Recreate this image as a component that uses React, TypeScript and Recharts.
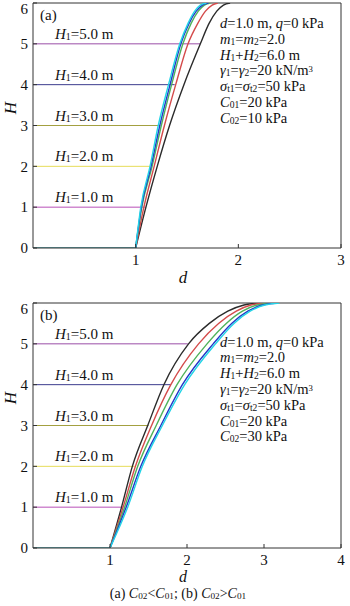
import React from 'react';
import { LineChart, Line, XAxis, YAxis, ReferenceLine } from 'recharts';

// H values at which each curve's d is sampled
const H_LEVELS = [0, 1, 2, 3, 4, 5, 5.5, 5.8, 5.95, 6];

// (a) C02 < C01
const A_BLACK = [1.0, 1.10, 1.21, 1.33, 1.47, 1.63, 1.715, 1.79, 1.855, 1.92];
const A_RED = [1.0, 1.08, 1.18, 1.28, 1.39, 1.51, 1.605, 1.68, 1.745, 1.80];
const A_GREEN = [1.0, 1.06, 1.16, 1.25, 1.35, 1.46, 1.54, 1.61, 1.67, 1.73];
const A_BLUE = [1.0, 1.055, 1.15, 1.235, 1.335, 1.44, 1.52, 1.59, 1.65, 1.71];
const A_CYAN = [1.0, 1.05, 1.14, 1.22, 1.32, 1.43, 1.51, 1.575, 1.63, 1.69];

// (b) C02 > C01
const B_BLACK = [1.0, 1.15, 1.29, 1.49, 1.70, 2.02, 2.29, 2.53, 2.74, 2.95];
const B_RED = [1.0, 1.17, 1.33, 1.54, 1.79, 2.15, 2.41, 2.64, 2.83, 3.03];
const B_GREEN = [1.0, 1.19, 1.36, 1.60, 1.87, 2.26, 2.51, 2.72, 2.91, 3.10];
const B_BLUE = [1.0, 1.21, 1.40, 1.66, 1.94, 2.34, 2.58, 2.79, 2.98, 3.17];
const B_CYAN = [1.0, 1.23, 1.42, 1.68, 1.97, 2.37, 2.61, 2.82, 3.01, 3.20];

// H1 marker lines: level and end d
const H1_VALUES = [1, 2, 3, 4, 5];
const A_H1_END = [1.09, 1.15, 1.24, 1.38, 1.63];
const B_H1_END = [1.17, 1.32, 1.50, 1.79, 2.01];

const Y_TICKS = [0, 1, 2, 3, 4, 5, 6];
const A_X_TICKS = [1, 2, 3];
const B_X_TICKS = [1, 2, 3, 4];

const CURVE_COLORS = ['#2b2b2b', '#d44b4b', '#4fb25a', '#2238c8', '#22d4e6'];
const H1_COLORS = ['#b850b8', '#e6dc5a', '#a3a040', '#3c3c8e', '#9a4ea8'];

const FONT = '"Liberation Serif", "Times New Roman", serif';

const toPts = (ds: number[]) => ds.map((d, i) => ({ d, H: H_LEVELS[i] }));

function Panel({ curves, ends, xTicks, xMax }: { curves: number[][]; ends: number[]; xTicks: number[]; xMax: number }) {
  return (
    <LineChart width={350} height={290} margin={{ top: 3, right: 9, left: 3, bottom: 12 }}>
      <XAxis
        type="number"
        dataKey="d"
        domain={[0, xMax]}
        ticks={xTicks}
        allowDataOverflow
        tickSize={-4}
        tickMargin={10}
        height={30}
        stroke="#333"
        tick={{ fill: '#111', fontSize: 15, fontFamily: FONT }}
      />
      <YAxis
        type="number"
        dataKey="H"
        domain={[0, 6]}
        ticks={Y_TICKS}
        allowDataOverflow
        tickSize={-4}
        tickMargin={9}
        width={30}
        stroke="#333"
        tick={{ fill: '#111', fontSize: 15, fontFamily: FONT }}
      />
      <ReferenceLine y={6} stroke="#333" strokeWidth={1} ifOverflow="extendDomain" />
      <ReferenceLine x={xMax} stroke="#333" strokeWidth={1} ifOverflow="extendDomain" />
      {H1_VALUES.map((h, i) => (
        <Line
          key={'h' + h}
          data={[{ d: 0, H: h }, { d: ends[i], H: h }]}
          dataKey="H"
          type="linear"
          stroke={H1_COLORS[i]}
          strokeWidth={1}
          dot={false}
          isAnimationActive={false}
        />
      ))}
      <Line
        data={[{ d: 0, H: 0 }, { d: 1, H: 0 }]}
        dataKey="H"
        type="linear"
        stroke="#2f8c94"
        strokeWidth={1.5}
        dot={false}
        isAnimationActive={false}
      />
      {curves.map((c, i) => (
        <Line
          key={'c' + i}
          data={toPts(c)}
          dataKey="H"
          type="monotone"
          stroke={CURVE_COLORS[i]}
          strokeWidth={1.4}
          dot={false}
          isAnimationActive={false}
        />
      ))}
    </LineChart>
  );
}

const T = ({ x, y, children, size = 15, anchor = 'left' }: any) => (
  <div
    style={{
      position: 'absolute',
      left: x,
      top: y,
      transform: anchor === 'center' ? 'translate(-50%, -50%)' : 'translateY(-50%)',
      fontFamily: FONT,
      fontSize: size,
      lineHeight: 1,
      whiteSpace: 'nowrap',
      color: '#111',
    }}
  >
    {children}
  </div>
);

const Sub = ({ children }: any) => (
  <sub style={{ fontSize: '0.66em', verticalAlign: '-0.15em', lineHeight: 0 }}>{children}</sub>
);
const Sup = ({ children }: any) => (
  <sup style={{ fontSize: '0.6em', verticalAlign: '0.35em', lineHeight: 0 }}>{children}</sup>
);

function Annot({ top, c02 }: { top: number; c02: string }) {
  const step = 15.8;
  const x = 220;
  const s = 14.5;
  return (
    <>
      <T x={x} y={top} size={s}><i>d</i>=1.0 m, <i>q</i>=0 kPa</T>
      <T x={x} y={top + step} size={s}><i>m</i><Sub>1</Sub>=<i>m</i><Sub>2</Sub>=2.0</T>
      <T x={x} y={top + step * 2} size={s}><i>H</i><Sub>1</Sub>+<i>H</i><Sub>2</Sub>=6.0 m</T>
      <T x={x} y={top + step * 3} size={s}><i>γ</i><Sub>1</Sub>=<i>γ</i><Sub>2</Sub>=20 kN/m<Sup>3</Sup></T>
      <T x={x} y={top + step * 4} size={s}><i>σ</i><Sub>t1</Sub>=<i>σ</i><Sub>t2</Sub>=50 kPa</T>
      <T x={x} y={top + step * 5} size={s}><i>C</i><Sub>01</Sub>=20 kPa</T>
      <T x={x} y={top + step * 6} size={s}><i>C</i><Sub>02</Sub>={c02} kPa</T>
    </>
  );
}

function H1Labels({ yZero, tag }: { yZero: number; tag: string }) {
  const unit = 245 / 6;
  return (
    <>
      <T x={40} y={yZero - 6 * unit + 12}>{tag}</T>
      {H1_VALUES.map((h) => (
        <T key={h} x={55} y={yZero - h * unit - 10}>
          <i>H</i><Sub>1</Sub>={h.toFixed(1)} m
        </T>
      ))}
    </>
  );
}

export default function App() {
  return (
    <div style={{ position: 'absolute', left: 0, top: 0, width: 350, height: 606, background: '#fff', overflow: 'hidden' }}>
      <div style={{ position: 'absolute', left: 0, top: 0 }}>
        <Panel curves={[A_BLACK, A_RED, A_GREEN, A_BLUE, A_CYAN]} ends={A_H1_END} xTicks={A_X_TICKS} xMax={3} />
      </div>
      <div style={{ position: 'absolute', left: 0, top: 300 }}>
        <Panel curves={[B_BLACK, B_RED, B_GREEN, B_BLUE, B_CYAN]} ends={B_H1_END} xTicks={B_X_TICKS} xMax={4} />
      </div>
      <H1Labels yZero={248} tag="(a)" />
      <H1Labels yZero={548} tag="(b)" />
      <Annot top={23} c02="10" />
      <Annot top={341.5} c02="30" />
      <T x={10} y={108} size={17} anchor="center">
        <div style={{ transform: 'rotate(-90deg)', fontStyle: 'italic' }}>H</div>
      </T>
      <T x={10} y={398} size={17} anchor="center">
        <div style={{ transform: 'rotate(-90deg)', fontStyle: 'italic' }}>H</div>
      </T>
      <T x={183} y={277} size={17} anchor="center"><i>d</i></T>
      <T x={183} y={577} size={16} anchor="center"><i>d</i></T>
      <T x={178} y={593.5} size={14} anchor="center">
        (a) <i>C</i><Sub>02</Sub>&lt;<i>C</i><Sub>01</Sub>; (b) <i>C</i><Sub>02</Sub>&gt;<i>C</i><Sub>01</Sub>
      </T>
    </div>
  );
}
